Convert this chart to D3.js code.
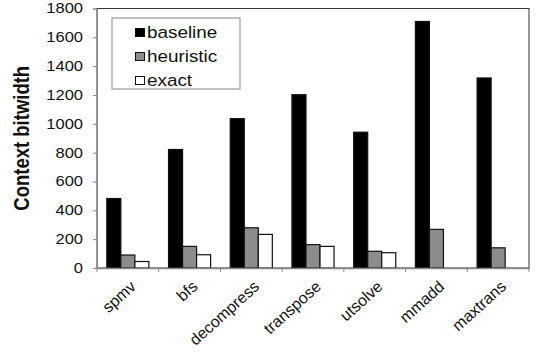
<!DOCTYPE html>
<html>
<head>
<meta charset="utf-8">
<script src="https://cdn.jsdelivr.net/npm/d3@7"></script>
</head>
<body style="margin:0">
<div id="canvas"></div>
<script>
const categories = ['spmv', 'bfs', 'decompress', 'transpose', 'utsolve', 'mmadd', 'maxtrans']
const seriesNames = ['baseline', 'heuristic', 'exact']
const baseline = [482, 822, 1036, 1202, 942, 1710, 1318]
const heuristic = [90, 150, 279, 162, 116, 268, 140]
const exact = [45, 92, 233, 150, 106, 0, 0]
const yTicks = [0, 200, 400, 600, 800, 1000, 1200, 1400, 1600, 1800]

const width = 537
const height = 356
const margin = { top: 8.5, left: 97, bottom: 88, right: 8 }
const iwidth = width - margin.left - margin.right
const iheight = height - margin.top - margin.bottom
const stretch = 1.18 // the picture is a bit wider than tall
const font = 'Liberation Sans'

const colors = { baseline: '#000', heuristic: '#8c8c8c', exact: '#fff' }
const seriesValues = { baseline, heuristic, exact }

const svg = d3.select('#canvas').append('svg')
  .attr('width', width)
  .attr('height', height)

const g = svg.append('g')
  .attr('transform', `translate(${margin.left},${margin.top})`)

const x = d3.scaleBand().domain(categories).range([0, iwidth]).padding(0)
const xs = d3.scaleBand().domain(seriesNames).range([0, x.bandwidth()])
  .paddingInner(0).paddingOuter(0.7)
const y = d3.scaleLinear().domain([0, 1800]).range([iheight, 0])

// plot frame (top / right)
g.append('rect')
  .attr('x', 0).attr('y', 0)
  .attr('width', iwidth).attr('height', iheight)
  .attr('fill', 'none').attr('stroke', '#333').attr('stroke-width', 1)

// bars
categories.forEach((c, i) => {
  seriesNames.forEach((s) => {
    const v = seriesValues[s][i]
    if (v <= 0) return
    g.append('rect')
      .attr('x', x(c) + xs(s))
      .attr('y', y(v))
      .attr('width', xs.bandwidth())
      .attr('height', iheight - y(v))
      .attr('fill', colors[s])
      .attr('stroke', '#111')
      .attr('stroke-width', 1.2)
  })
})

// y axis
const yAxis = g.append('g')
  .call(d3.axisLeft(y).tickValues(yTicks).tickFormat(d3.format('d')).tickSize(4).tickPadding(0))
yAxis.attr('font-family', null).attr('font-size', null)
yAxis.select('.domain').attr('stroke', '#888')
yAxis.selectAll('.tick line').attr('stroke', '#888')
yAxis.selectAll('.tick text')
  .attr('x', -14 / stretch)
  .attr('transform', `scale(${stretch},1)`)
  .style('font-family', font)
  .style('font-size', '14px')
  .attr('fill', '#111')

// x axis, ticks sit on the category boundaries
const xAxis = g.append('g')
  .attr('transform', `translate(0,${iheight})`)
  .call(d3.axisBottom(x).tickSize(0).tickFormat(''))
xAxis.select('.domain').attr('stroke', '#888').attr('stroke-width', 1.3)
xAxis.selectAll('.tick').remove()
categories.concat(['end']).forEach((c, i) => {
  const xx = i < categories.length ? x(c) : iwidth
  g.append('line')
    .attr('x1', xx).attr('x2', xx)
    .attr('y1', iheight).attr('y2', iheight + 4)
    .attr('stroke', '#888')
})

// x labels, rotated
categories.forEach((c) => {
  const cx = margin.left + x(c) + x.bandwidth() / 2 + 9
  const cy = margin.top + iheight + 20
  svg.append('text')
    .attr('transform', `translate(${cx},${cy}) rotate(-42)`)
    .attr('text-anchor', 'end')
    .style('font-family', font)
    .style('font-size', '16px')
    .attr('fill', '#111')
    .text(c)
})

// y label
svg.append('text')
  .attr('transform', `translate(29,${margin.top + iheight / 2}) scale(${stretch},1) rotate(-90)`)
  .attr('text-anchor', 'middle')
  .style('font-family', font)
  .style('font-size', '18.5px')
  .style('font-weight', 'bold')
  .attr('fill', '#111')
  .text('Context bitwidth')

// legend
const legend = svg.append('g').attr('transform', 'translate(112,18)')
legend.append('rect')
  .attr('x', 0).attr('y', 0)
  .attr('width', 128).attr('height', 71)
  .attr('fill', '#fff').attr('stroke', '#999').attr('stroke-width', 1.2)
seriesNames.forEach((s, i) => {
  const row = legend.append('g').attr('transform', `translate(0,${20 + i * 24})`)
  row.append('rect')
    .attr('x', 23.5).attr('y', -9.5)
    .attr('width', 9).attr('height', 8)
    .attr('fill', colors[s]).attr('stroke', '#111').attr('stroke-width', 1)
  row.append('text')
    .attr('x', 35 / stretch)
    .attr('transform', `scale(${stretch},1)`)
    .style('font-family', font)
    .style('font-size', '16px')
    .attr('fill', '#111')
    .text(s)
})
</script>
</body>
</html>
